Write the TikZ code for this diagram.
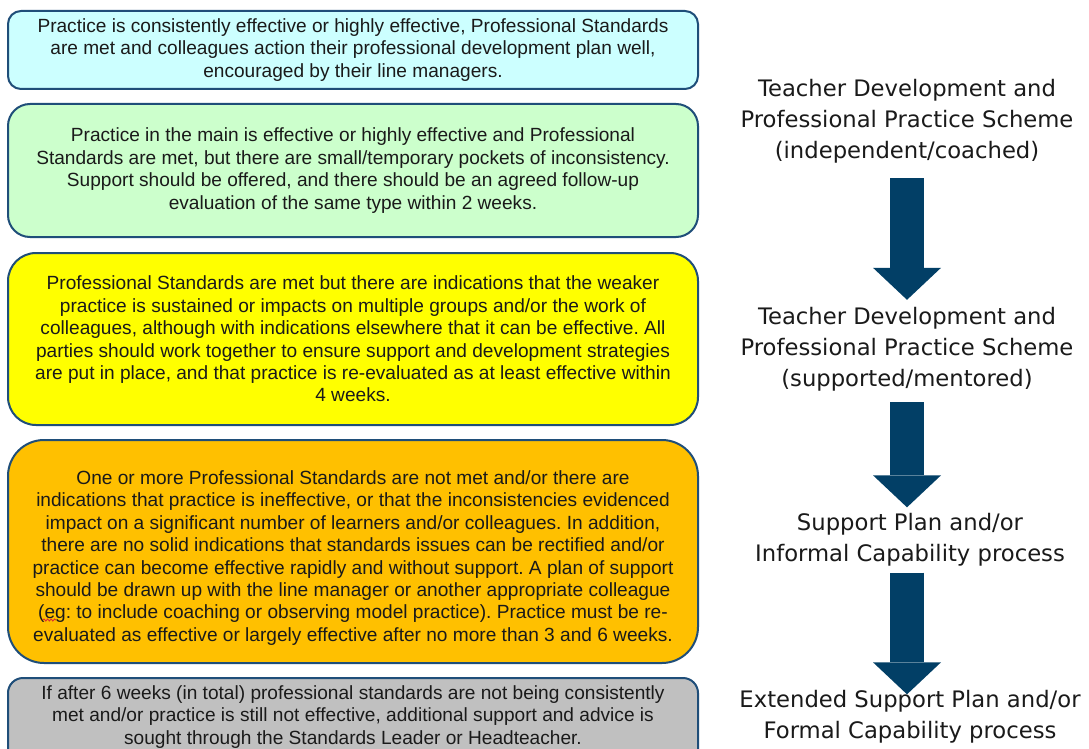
\documentclass[tikz,border=0pt]{standalone}
\usepackage{fontspec}
\setmainfont{Liberation Sans}
\newfontfamily\stagefont{DejaVu Sans}
\usetikzlibrary{arrows.meta,decorations.pathmorphing}
\definecolor{edgeblue}{HTML}{1F4E79}
\definecolor{arrowblue}{HTML}{023F66}
\definecolor{fillcyan}{HTML}{CCFFFF}
\definecolor{fillgreen}{HTML}{CCFFCC}
\definecolor{fillyellow}{HTML}{FFFF00}
\definecolor{fillorange}{HTML}{FFC000}
\definecolor{fillgray}{HTML}{C0C0C0}
\definecolor{inktext}{HTML}{1A1A1A}
\definecolor{spellred}{HTML}{E0302A}
\frenchspacing
\begin{document}
\begin{tikzpicture}[x=1pt,y=-1pt,
  box/.style={draw=edgeblue, line width=2pt, minimum width=690pt, inner sep=0pt,
    align=center, text=inktext, font=\fontsize{19.1}{22.4}\selectfont},
  boxtext/.style={inner sep=0pt, align=center, text=inktext, font=\fontsize{19.1}{22.4}\selectfont},
  stage/.style={align=center, inner sep=0pt, text=inktext, font=\stagefont\fontsize{22.7}{31}\selectfont},
  blockarrow/.style={draw=arrowblue, line width=34pt,
    -{Triangle[width=68pt,length=32pt,line width=0pt]}},
  squiggle/.style={draw=spellred, line width=0.9pt, decorate,
    decoration={snake, amplitude=1pt, segment length=3.5pt}}
]
\useasboundingbox (0,0) rectangle (1089,749);
\fill[white] (0,0) rectangle (1089,749);

% left boxes
\node[box, fill=fillcyan, minimum height=78pt, rounded corners=13pt] (b1) at (353,50)
  {Practice is consistently effective or highly effective, Professional Standards\\
   are met and colleagues action their professional development plan well,\\
   encouraged by their line managers.};
\node[box, fill=fillgreen, minimum height=133pt, rounded corners=22pt] (b2) at (353,170.5)
  {Practice in the main is effective or highly effective and Professional\\
   Standards are met, but there are small/temporary pockets of inconsistency.\\
   Support should be offered, and there should be an agreed follow-up\\
   evaluation of the same type within 2 weeks.};
\node[box, fill=fillyellow, minimum height=172pt, rounded corners=28pt] (b3) at (353,339)
  {Professional Standards are met but there are indications that the weaker\\
   practice is sustained or impacts on multiple groups and/or the work of\\
   colleagues, although with indications elsewhere that it can be effective. All\\
   parties should work together to ensure support and development strategies\\
   are put in place, and that practice is re-evaluated as at least effective within\\
   4 weeks.};
\node[box, fill=fillorange, minimum height=223pt, rounded corners=36pt] (b4) at (353,551.5) {};
\node[boxtext] (t4) at (353,558)
  {One or more Professional Standards are not met and/or there are\\
   indications that practice is ineffective, or that the inconsistencies evidenced\\
   impact on a significant number of learners and/or colleagues. In addition,\\
   there are no solid indications that standards issues can be rectified and/or\\
   practice can become effective rapidly and without support. A plan of support\\
   should be drawn up with the line manager or another appropriate colleague\\
   (eg: to include coaching or observing model practice). Practice must be re-\\
   evaluated as effective or largely effective after no more than 3 and 6 weeks.};
\draw[squiggle] (43,620) -- (56,620);
\node[box, fill=fillgray, minimum height=110pt, rounded corners=15pt, anchor=north] (b5) at (353,677) {};
\node[boxtext] (t5) at (353,717)
  {If after 6 weeks (in total) professional standards are not being consistently\\
   met and/or practice is still not effective, additional support and advice is\\
   sought through the Standards Leader or Headteacher.};

% right stages
\node[stage] (r1) at (907,121) {Teacher Development and\\ Professional Practice Scheme\\ (independent/coached)};
\node[stage] (r2) at (907,349) {Teacher Development and\\ Professional Practice Scheme\\ (supported/mentored)};
\node[stage] (r3) at (910,540) {Support Plan and/or\\ Informal Capability process};
\node[stage] (r4) at (910,717) {Extended Support Plan and/or\\ Formal Capability process};

\draw[blockarrow, shorten <=15pt, shorten >=7pt] (r1.south -| 907,0) -- (r2.north -| 907,0);
\draw[blockarrow, shorten <=11pt, shorten >=6pt] (r2.south -| 907,0) -- (r3.north -| 907,0);
\draw[blockarrow, shorten <=6pt, shorten >=-4pt] (r3.south -| 907,0) -- (r4.north -| 907,0);
\end{tikzpicture}
\end{document}
